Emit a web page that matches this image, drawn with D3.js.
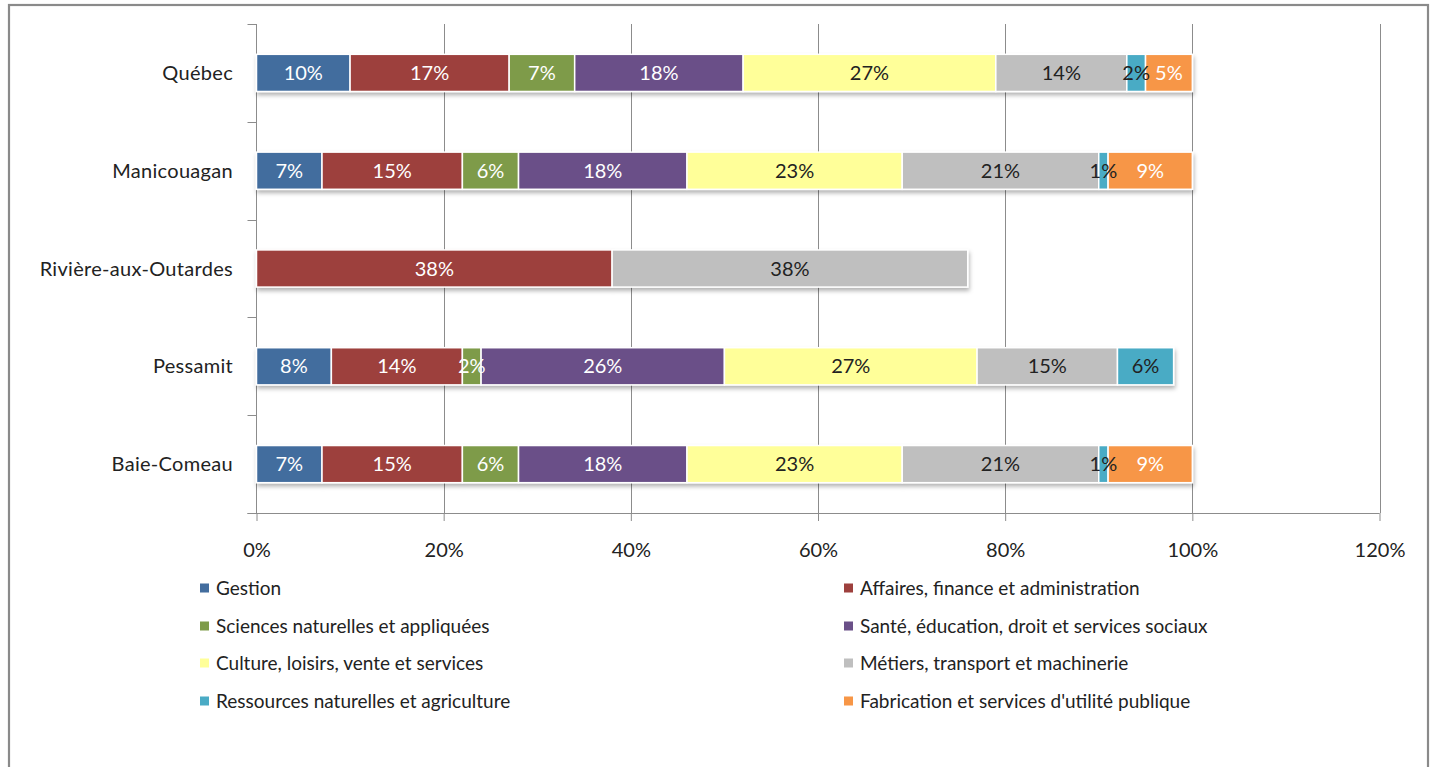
<!DOCTYPE html>
<html>
<head>
<meta charset="utf-8">
<script src="https://cdn.jsdelivr.net/npm/d3@7"></script>
<style>
  html, body { margin: 0; padding: 0; background: #fff; }
  svg { display: block; }
  text { font-family: Lato, "Open Sans", sans-serif; }
</style>
</head>
<body>
<script>
// Regions, top to bottom
const regions = ["Québec", "Manicouagan", "Rivière-aux-Outardes", "Pessamit", "Baie-Comeau"];

// Occupation groups (stack order, left to right)
const groups = [
  "Gestion",
  "Affaires, finance et administration",
  "Sciences naturelles et appliquées",
  "Santé, éducation, droit et services sociaux",
  "Culture, loisirs, vente et services",
  "Métiers, transport et machinerie",
  "Ressources naturelles et agriculture",
  "Fabrication et services d'utilité publique"
];

// Share of workers by group (%) for each region, in the group order above
const quebec      = [10, 17, 7, 18, 27, 14, 2, 5];
const manicouagan = [7, 15, 6, 18, 23, 21, 1, 9];
const riviere     = [0, 38, 0, 0, 0, 38, 0, 0];
const pessamit    = [8, 14, 2, 26, 27, 15, 6, 0];
const baieComeau  = [7, 15, 6, 18, 23, 21, 1, 9];
const seriesByRegion = [quebec, manicouagan, riviere, pessamit, baieComeau];

const xTicks = [0, 20, 40, 60, 80, 100, 120];

const colors = ["#436d9e", "#9d403d", "#7e9b49", "#6a5088", "#ffff99", "#bfbfbf", "#4aabc5", "#f79646"];
const darkText = new Set([4, 5, 6]);

const W = 1432, H = 767;
const svg = d3.select("body").append("svg").attr("width", W).attr("height", H);

// Soft drop shadow under each bar
const defs = svg.append("defs");
const f = defs.append("filter").attr("id", "shadow")
  .attr("x", "-5%").attr("y", "-30%").attr("width", "110%").attr("height", "180%");
f.append("feDropShadow").attr("dx", 1).attr("dy", 3).attr("stdDeviation", 2)
  .attr("flood-color", "#000").attr("flood-opacity", 0.3);

// Chart frame
svg.append("rect").attr("x", 9).attr("y", 5).attr("width", 1419).attr("height", H + 20)
  .attr("fill", "#fff").attr("stroke", "#8a8a8a").attr("stroke-width", 2.2);

const plotL = 256.5, plotR = 1379.5, plotT = 24, plotB = 513;
const x = d3.scaleLinear().domain([0, 120]).range([plotL, plotR]);
const y = d3.scaleBand().domain(regions).range([plotT, plotB]).paddingInner(0.62).paddingOuter(0.31);

// Vertical gridlines
svg.append("g").selectAll("line").data(xTicks.filter(d => d > 0)).join("line")
  .attr("x1", d => Math.round(x(d)) + 0.5).attr("x2", d => Math.round(x(d)) + 0.5)
  .attr("y1", plotT).attr("y2", plotB)
  .attr("stroke", "#8c8c8c").attr("stroke-width", 1);

// X axis
const xAxis = svg.append("g").attr("transform", `translate(0,${plotB})`)
  .call(d3.axisBottom(x).tickValues(xTicks).tickFormat(d => d + "%").tickSize(8).tickPadding(22));
xAxis.select(".domain").remove();
xAxis.append("line").attr("x1", plotL - 9).attr("x2", plotR).attr("y1", 0.5).attr("y2", 0.5)
  .attr("stroke", "#8c8c8c");
xAxis.selectAll(".tick line").attr("stroke", "#8c8c8c");
xAxis.selectAll(".tick text").attr("fill", "#222").attr("font-size", 20)
  .attr("font-family", "Lato, 'Open Sans', sans-serif");

// Y axis: vertical line with tick marks between categories
const yAxis = svg.append("g");
yAxis.append("line").attr("x1", plotL).attr("x2", plotL).attr("y1", plotT).attr("y2", plotB)
  .attr("stroke", "#8c8c8c");
const bounds = d3.range(regions.length + 1).map(i => plotT + i * (plotB - plotT) / regions.length);
yAxis.selectAll("line.tk").data(bounds).join("line").attr("class", "tk")
  .attr("x1", plotL - 9).attr("x2", plotL).attr("y1", d => Math.round(d) + 0.5).attr("y2", d => Math.round(d) + 0.5)
  .attr("stroke", "#8c8c8c");
yAxis.selectAll("text").data(regions).join("text")
  .attr("x", 233).attr("y", d => y(d) + y.bandwidth() / 2)
  .attr("dy", "0.35em").attr("text-anchor", "end")
  .attr("font-size", 20).attr("letter-spacing", 0.3).attr("fill", "#222").text(d => d);

// Stacked bars
const rows = svg.append("g").selectAll("g.row").data(regions).join("g").attr("class", "row");
rows.each(function (region, ri) {
  const vals = seriesByRegion[ri];
  let acc = 0;
  const segs = vals.map((v, gi) => {
    const s = { gi, v, x0: acc, x1: acc + v };
    acc += v;
    return s;
  }).filter(s => s.v > 0);
  const g = d3.select(this);
  const barG = g.append("g").attr("filter", "url(#shadow)");
  barG.selectAll("rect").data(segs).join("rect")
    .attr("x", s => x(s.x0)).attr("width", s => x(s.x1) - x(s.x0))
    .attr("y", y(region)).attr("height", y.bandwidth())
    .attr("fill", s => colors[s.gi])
    .attr("stroke", "#fff").attr("stroke-width", 1.5);
  g.selectAll("text").data(segs).join("text")
    .attr("x", s => (x(s.x0) + x(s.x1)) / 2)
    .attr("y", y(region) + y.bandwidth() / 2).attr("dy", "0.35em")
    .attr("text-anchor", "middle").attr("font-size", 20)
    .attr("fill", s => darkText.has(s.gi) ? "#222" : "#fff")
    .text(s => s.v + "%");
});

// Legend, two columns
const legend = svg.append("g");
const colX = [200, 844];
const rowY = [588, 626, 663, 701];
groups.forEach((name, i) => {
  const cx = colX[i % 2], cy = rowY[Math.floor(i / 2)];
  legend.append("rect").attr("x", cx).attr("y", cy - 4.5).attr("width", 9).attr("height", 9)
    .attr("fill", colors[i]);
  legend.append("text").attr("x", cx + 16).attr("y", cy).attr("dy", "0.35em")
    .attr("font-size", 19).attr("fill", "#222").text(name);
});
</script>
</body>
</html>
